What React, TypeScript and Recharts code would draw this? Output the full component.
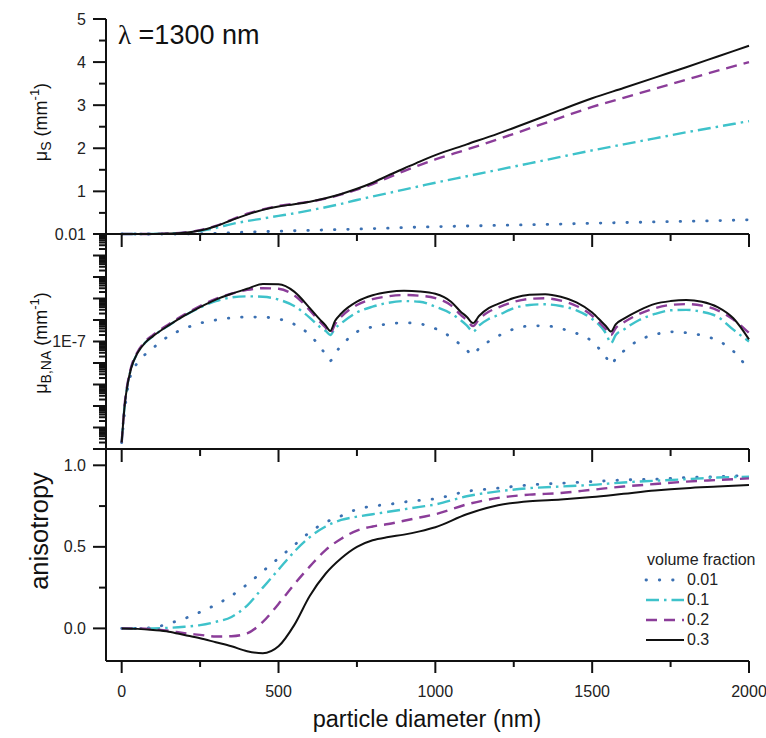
import { LineChart, Line, XAxis, YAxis, Legend } from 'recharts'

const FONT = '"Liberation Sans", Arial, sans-serif'
const AXIS = '#111'

// particle diameter grid (nm) for the mu_s and anisotropy panels
const diameters = [
  0, 50, 100, 150, 200, 250, 300, 350, 400, 450, 500, 550, 600, 650, 700, 750, 800, 850, 900, 950, 1000,
  1100, 1200, 1300, 1400, 1500, 1600, 1700, 1800, 1900, 2000,
]

// scattering coefficient mu_s (mm^-1)
const musVf001 = [0.01, 0.01, 0.01, 0.01, 0.012, 0.015, 0.025, 0.04, 0.055, 0.065, 0.075, 0.085, 0.095, 0.105, 0.115, 0.125, 0.135, 0.145, 0.16, 0.17, 0.18, 0.195, 0.21, 0.225, 0.24, 0.26, 0.275, 0.29, 0.305, 0.32, 0.34]
const musVf01 = [0.01, 0.01, 0.012, 0.02, 0.04, 0.08, 0.15, 0.24, 0.31, 0.37, 0.43, 0.49, 0.56, 0.63, 0.71, 0.8, 0.88, 0.96, 1.04, 1.12, 1.2, 1.35, 1.5, 1.65, 1.8, 1.95, 2.09, 2.23, 2.37, 2.5, 2.63]
const musVf02 = [0.01, 0.01, 0.012, 0.02, 0.045, 0.1, 0.2, 0.34, 0.48, 0.58, 0.66, 0.71, 0.76, 0.83, 0.93, 1.04, 1.17, 1.32, 1.47, 1.61, 1.74, 1.97, 2.21, 2.46, 2.71, 2.96, 3.17, 3.38, 3.59, 3.8, 4.0]
const musVf03 = [0.01, 0.01, 0.012, 0.02, 0.04, 0.09, 0.19, 0.33, 0.46, 0.57, 0.65, 0.7, 0.76, 0.84, 0.94, 1.06, 1.2, 1.37, 1.53, 1.69, 1.84, 2.09, 2.34, 2.61, 2.89, 3.16, 3.4, 3.64, 3.88, 4.13, 4.38]

// anisotropy g
const gVf001 = [0, 0, 0.005, 0.03, 0.06, 0.1, 0.145, 0.2, 0.27, 0.35, 0.43, 0.51, 0.59, 0.65, 0.69, 0.73, 0.75, 0.76, 0.775, 0.785, 0.795, 0.84, 0.86, 0.88, 0.89, 0.9, 0.91, 0.915, 0.925, 0.93, 0.94]
const gVf01 = [0, 0, 0, 0.003, 0.01, 0.02, 0.04, 0.07, 0.14, 0.25, 0.36, 0.47, 0.56, 0.625, 0.665, 0.685, 0.7, 0.715, 0.73, 0.745, 0.76, 0.81, 0.84, 0.86, 0.87, 0.88, 0.895, 0.905, 0.915, 0.925, 0.93]
const gVf02 = [0, 0, -0.005, -0.015, -0.03, -0.04, -0.05, -0.048, -0.03, 0.04, 0.15, 0.27, 0.38, 0.48, 0.55, 0.6, 0.625, 0.64, 0.66, 0.68, 0.7, 0.76, 0.8, 0.82, 0.83, 0.85, 0.87, 0.885, 0.9, 0.91, 0.92]
const gVf03 = [0, -0.003, -0.01, -0.02, -0.04, -0.06, -0.085, -0.11, -0.14, -0.152, -0.11, 0.02, 0.2, 0.335, 0.43, 0.5, 0.54, 0.56, 0.575, 0.595, 0.62, 0.7, 0.755, 0.78, 0.79, 0.805, 0.825, 0.845, 0.86, 0.87, 0.88]

// finer grid around the resonance cusps for mu_B,NA
const diametersB = [
  0, 10, 20, 30, 50, 75, 100, 150, 200, 250, 300, 350, 400, 450, 500, 550, 600, 630, 650, 665,
  680, 700, 750, 800, 850, 900, 950, 1000, 1050, 1080, 1100, 1120, 1140, 1170, 1200, 1250, 1300, 1350, 1400, 1450,
  1500, 1530, 1545, 1560, 1575, 1600, 1650, 1700, 1750, 1800, 1850, 1900, 1950, 2000,
]

// mu_B,NA (mm^-1)
const muBVf001 = [2e-12, 6.31e-11, 7.94e-10, 3.16e-9, 1e-8, 2.51e-8, 5.01e-8, 1.78e-7, 3.98e-7, 7.08e-7, 1e-6, 1.26e-6, 1.38e-6, 1.35e-6, 1.12e-6, 6.31e-7, 2e-7, 6.31e-8, 2.51e-8, 1.26e-8, 2.82e-8, 6.31e-8, 2.82e-7, 4.79e-7, 6.61e-7, 7.41e-7, 6.61e-7, 3.98e-7, 1.58e-7, 7.08e-8, 3.98e-8, 2.34e-8, 5.01e-8, 1e-7, 1.78e-7, 3.8e-7, 5.25e-7, 5.37e-7, 3.98e-7, 2.4e-7, 1e-7, 3.39e-8, 1.78e-8, 8.13e-9, 1.58e-8, 3.55e-8, 1.17e-7, 2.09e-7, 2.82e-7, 2.57e-7, 1.91e-7, 1.12e-7, 3.55e-8, 4.68e-9]
const muBVf01 = [2e-12, 1.26e-10, 1.26e-9, 5.62e-9, 2.82e-8, 8.91e-8, 1.78e-7, 5.62e-7, 1.58e-6, 3.8e-6, 7.59e-6, 1.12e-5, 1.26e-5, 1.2e-5, 8.91e-6, 4.47e-6, 1.26e-6, 5.01e-7, 3.16e-7, 2e-7, 3.98e-7, 7.08e-7, 2.24e-6, 4.17e-6, 6.31e-6, 7.59e-6, 7.08e-6, 4.17e-6, 2e-6, 1e-6, 5.62e-7, 2.88e-7, 5.62e-7, 1.12e-6, 1.66e-6, 3.55e-6, 5.01e-6, 5.37e-6, 4.47e-6, 2.82e-6, 1.12e-6, 4.47e-7, 2.24e-7, 8.32e-8, 2e-7, 3.55e-7, 1e-6, 1.91e-6, 2.82e-6, 2.95e-6, 2.4e-6, 1.41e-6, 3.55e-7, 1e-7]
const muBVf02 = [2e-12, 1.41e-10, 1.41e-9, 6.31e-9, 3.16e-8, 1e-7, 2e-7, 6.31e-7, 1.78e-6, 4.47e-6, 9.55e-6, 1.66e-5, 2.51e-5, 3.02e-5, 2.82e-5, 1.41e-5, 2.82e-6, 8.91e-7, 4.47e-7, 2.4e-7, 6.31e-7, 1.41e-6, 5.01e-6, 9.33e-6, 1.26e-5, 1.45e-5, 1.35e-5, 1.05e-5, 4.79e-6, 1.78e-6, 1e-6, 5.25e-7, 1.12e-6, 2.4e-6, 3.8e-6, 6.92e-6, 9.55e-6, 1.02e-5, 7.94e-6, 4.47e-6, 1.58e-6, 6.03e-7, 3.55e-7, 2e-7, 4.17e-7, 7.59e-7, 1.91e-6, 3.55e-6, 5.01e-6, 5.5e-6, 4.68e-6, 2.82e-6, 1.05e-6, 2.51e-7]
const muBVf03 = [2e-12, 1.26e-10, 1.26e-9, 5.62e-9, 2.82e-8, 8.91e-8, 1.78e-7, 5.62e-7, 1.58e-6, 3.98e-6, 8.91e-6, 1.66e-5, 2.82e-5, 4.68e-5, 4.57e-5, 2.09e-5, 3.55e-6, 1.12e-6, 5.62e-7, 3.09e-7, 8.91e-7, 2e-6, 7.08e-6, 1.41e-5, 2e-5, 2.29e-5, 2.14e-5, 1.66e-5, 7.08e-6, 2.51e-6, 1.41e-6, 7.24e-7, 1.58e-6, 3.55e-6, 5.62e-6, 1.05e-5, 1.48e-5, 1.58e-5, 1.2e-5, 6.61e-6, 2.24e-6, 8.32e-7, 5.01e-7, 2.88e-7, 6.31e-7, 1.12e-6, 2.82e-6, 5.62e-6, 7.59e-6, 8.51e-6, 7.08e-6, 3.98e-6, 1.2e-6, 1.26e-7]

const xTicks = [0, 250, 500, 750, 1000, 1250, 1500, 1750, 2000]
const musTicks = [0.01, 0.5, 1, 1.5, 2, 2.5, 3, 3.5, 4, 4.5, 5]
const gTicks = [0, 0.25, 0.5, 0.75, 1]
const logDecades = [-12, -11, -10, -9, -8, -7, -6, -5, -4, -3]
const logTicks = logDecades.flatMap((e) => [1, 2, 3, 4, 5, 6, 7, 8, 9].map((k) => k * 10 ** e)).concat([1e-2])

const series = [
  { key: 'vf001', name: '0.01', color: '#3b70b2', dash: '0.5 12.8', width: 2.8, cap: 'round' },
  { key: 'vf01', name: '0.1', color: '#3ec2ca', dash: '13 5 2.5 5', width: 2.4, cap: 'butt' },
  { key: 'vf02', name: '0.2', color: '#8b3d99', dash: '11 7', width: 2.4, cap: 'butt' },
  { key: 'vf03', name: '0.3', color: '#111111', dash: undefined, width: 2, cap: 'butt' },
]

const musData = diameters.map((d, i) => ({ d, vf001: musVf001[i], vf01: musVf01[i], vf02: musVf02[i], vf03: musVf03[i] }))
const gData = diameters.map((d, i) => ({ d, vf001: gVf001[i], vf01: gVf01[i], vf02: gVf02[i], vf03: gVf03[i] }))
const muBData = diametersB.map((d, i) => ({ d, vf001: muBVf001[i], vf01: muBVf01[i], vf02: muBVf02[i], vf03: muBVf03[i] }))

const W = 766
const MARGIN_R = 17
const Y_W = 106
const X_DOMAIN = [-50, 2000]

function xTick(showLabel: boolean, majorLen: number, minorLen: number) {
  return (props: any) => {
    const { x, y, payload } = props
    const v = payload.value
    const major = v % 500 === 0
    return (
      <g>
        <line x1={x} x2={x} y1={y} y2={y + (major ? majorLen : minorLen)} stroke={AXIS} strokeWidth={2} />
        {showLabel && major && (
          <text x={x} y={y + 36} textAnchor="middle" fontSize={16} fill="#222">
            {v}
          </text>
        )}
      </g>
    )
  }
}

function yTick(isMajor: (v: number) => boolean, label: (v: number) => string | null) {
  return (props: any) => {
    const { x, y, payload } = props
    const v = payload.value
    const major = isMajor(v)
    const txt = label(v)
    return (
      <g>
        <line x1={x} x2={x - (major ? 13 : 7)} y1={y} y2={y} stroke={AXIS} strokeWidth={2} />
        {txt && (
          <text x={x - 20} y={y + 5.5} textAnchor="end" fontSize={16} fill="#222">
            {txt}
          </text>
        )}
      </g>
    )
  }
}

function renderLines() {
  return series.map((s) => (
    <Line
      key={s.key}
      type="monotone"
      dataKey={s.key}
      name={s.name}
      stroke={s.color}
      strokeWidth={s.width}
      strokeDasharray={s.dash}
      strokeLinecap={s.cap as any}
      dot={false}
      activeDot={false}
      isAnimationActive={false}
    />
  ))
}

function LegendBox(props: any) {
  const payload = props.payload || []
  return (
    <div style={{ fontFamily: FONT, color: '#222' }}>
      <div style={{ fontSize: 16, lineHeight: '20px', paddingLeft: 57 }}>volume fraction</div>
      {payload.map((p: any) => {
        const s = series.find((e) => e.name === p.value)
        if (!s) return null
        return (
          <div key={s.key} style={{ display: 'flex', alignItems: 'center', height: 20 }}>
            <svg width={96} height={20}>
              <line x1={56} x2={94} y1={10} y2={10} stroke={s.color} strokeWidth={s.width} strokeDasharray={s.dash} strokeLinecap={s.cap as any} />
            </svg>
            <span style={{ fontSize: 16, marginLeft: 1 }}>{s.name}</span>
          </div>
        )
      })}
    </div>
  )
}

const axisLine = { stroke: AXIS, strokeWidth: 2 }

export default function App() {
  return (
    <div style={{ position: 'absolute', left: 0, top: 0, width: W, height: 738, background: '#fff', fontFamily: FONT }}>
      {/* mu_s panel */}
      <div style={{ position: 'absolute', left: 0, top: 0 }}>
        <LineChart width={W} height={254} data={musData} margin={{ top: 19, right: MARGIN_R, bottom: 0, left: 0 }}>
          <XAxis dataKey="d" type="number" domain={X_DOMAIN} ticks={xTicks} interval={0} height={20} tickSize={0} tickMargin={0} tickLine={false} axisLine={axisLine} tick={xTick(false, 13, 7)} />
          <YAxis type="number" domain={[0.01, 5]} ticks={musTicks} interval={0} width={Y_W} tickSize={0} tickMargin={0} tickLine={false} axisLine={axisLine}
            tick={yTick((v) => v === 0.01 || Number.isInteger(v), (v) => (v === 0.01 || Number.isInteger(v) ? String(v) : null))} />
          {renderLines()}
        </LineChart>
      </div>

      {/* mu_B,NA panel (log) */}
      <div style={{ position: 'absolute', left: 0, top: 224 }}>
        <LineChart width={W} height={245} data={muBData} margin={{ top: 10, right: MARGIN_R, bottom: 0, left: 0 }}>
          <XAxis dataKey="d" type="number" domain={X_DOMAIN} ticks={xTicks} interval={0} height={20} tickSize={0} tickMargin={0} tickLine={false} axisLine={axisLine} tick={xTick(false, 13, 7)} />
          <YAxis type="number" scale="log" domain={[1e-12, 1e-2]} allowDataOverflow ticks={logTicks} interval={0} width={Y_W} tickSize={0} tickMargin={0} tickLine={false} axisLine={axisLine}
            tick={yTick(
              (v) => Math.abs(Math.log10(v) - Math.round(Math.log10(v))) < 1e-6,
              (v) => (Math.abs(Math.log10(v) + 7) < 1e-6 ? '1E-7' : null),
            )} />
          {renderLines()}
        </LineChart>
      </div>

      {/* anisotropy panel */}
      <div style={{ position: 'absolute', left: 0, top: 439 }}>
        <LineChart width={W} height={282} data={gData} margin={{ top: 10, right: MARGIN_R, bottom: 0, left: 0 }}>
          <XAxis dataKey="d" type="number" domain={X_DOMAIN} ticks={xTicks} interval={0} height={60} tickSize={0} tickMargin={0} tickLine={false} axisLine={axisLine} tick={xTick(true, 12, 6)} />
          <YAxis type="number" domain={[-0.2, 1.1]} ticks={gTicks} interval={0} width={Y_W} tickSize={0} tickMargin={0} tickLine={false} axisLine={axisLine}
            tick={yTick((v) => v === 0 || v === 0.5 || v === 1, (v) => (v === 0 || v === 0.5 || v === 1 ? v.toFixed(1) : null))} />
          {renderLines()}
          <Legend layout="horizontal" verticalAlign="middle" align="center" content={<LegendBox />}
            wrapperStyle={{ position: 'absolute', left: 590, top: 111, width: 176 }} />
        </LineChart>
      </div>

      {/* titles */}
      <svg width={W} height={738} style={{ position: 'absolute', left: 0, top: 0, pointerEvents: 'none' }} fontFamily={FONT} fill="#111">
        <text x={118} y={44} fontSize={27}>
          <tspan fontFamily='"Liberation Serif", serif'>λ</tspan> =1300 nm
        </text>
        <text transform="translate(47,122) rotate(-90)" textAnchor="middle" fontSize={18}>
          μ<tspan fontSize={14} dy={4}>S</tspan>
          <tspan dy={-4}> (mm</tspan>
          <tspan fontSize={13} dy={-8}>-1</tspan>
          <tspan dy={8}>)</tspan>
        </text>
        <text transform="translate(47,343) rotate(-90)" textAnchor="middle" fontSize={18}>
          μ<tspan fontSize={14} dy={4}>B,NA</tspan>
          <tspan dy={-4}> (mm</tspan>
          <tspan fontSize={13} dy={-8}>-1</tspan>
          <tspan dy={8}>)</tspan>
        </text>
        <text transform="translate(48,531) rotate(-90)" textAnchor="middle" fontSize={25.5}>anisotropy</text>
        <text x={427} y={727} textAnchor="middle" fontSize={23.5}>particle diameter (nm)</text>
      </svg>
    </div>
  )
}
